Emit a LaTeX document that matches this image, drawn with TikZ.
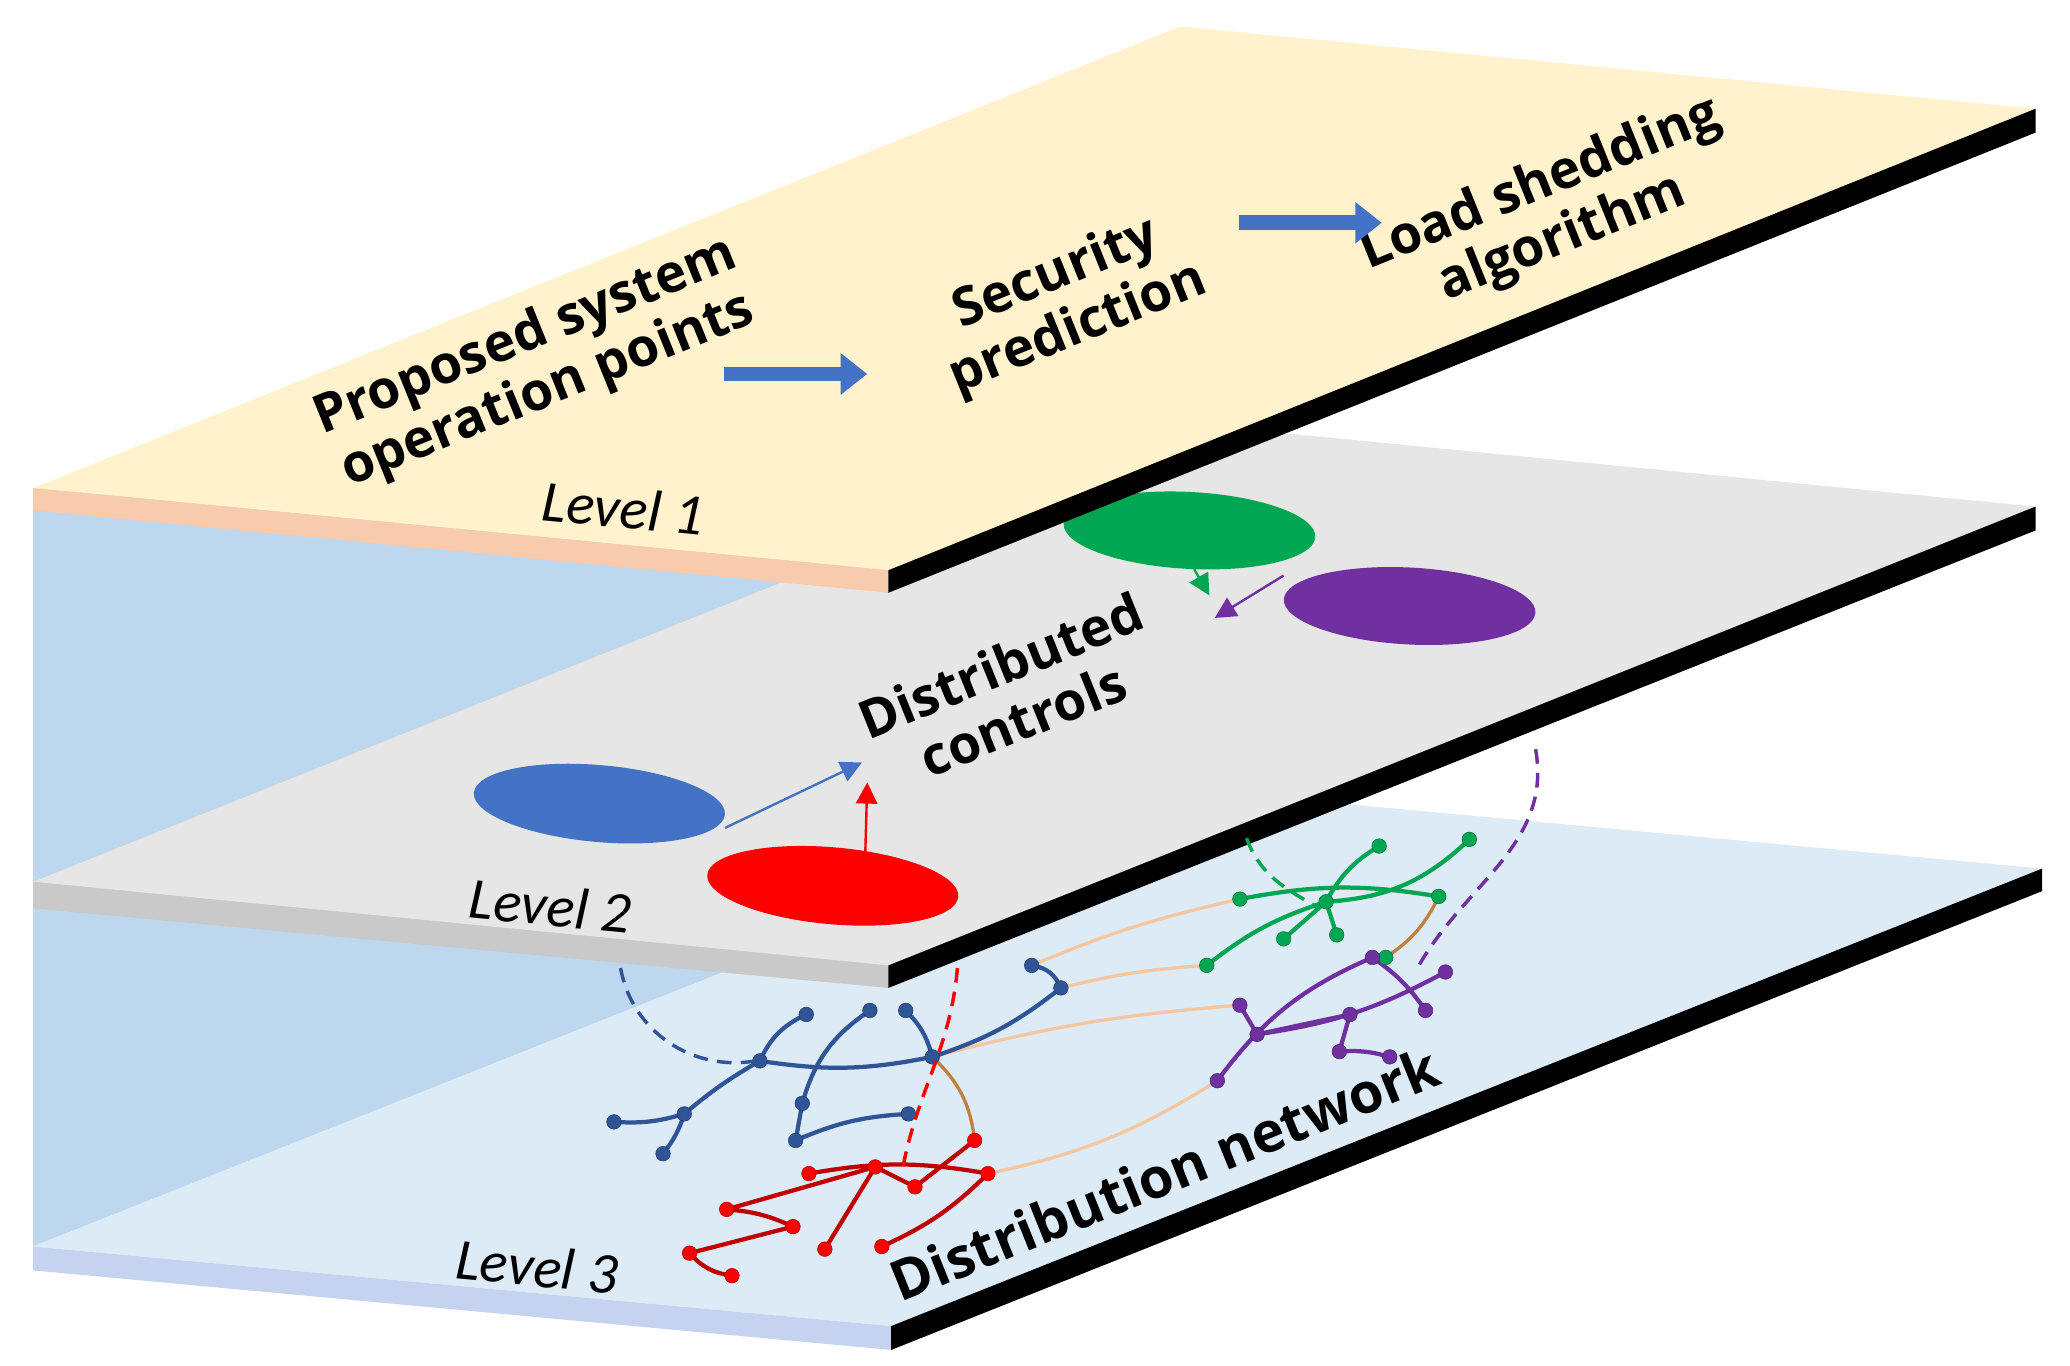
\documentclass[tikz,border=0pt]{standalone}
\usepackage{fontspec}
\setmainfont{Open Sans}
\newfontfamily\carl{Carlito}
\usetikzlibrary{arrows.meta,shapes.geometric}
\definecolor{bwall}{HTML}{BDD7EE}
\definecolor{lone}{HTML}{FFF2CC}
\definecolor{lonee}{HTML}{F8CBAD}
\definecolor{ltwo}{HTML}{E7E6E6}
\definecolor{ltwoe}{HTML}{C9C9C9}
\definecolor{lthr}{HTML}{DDEBF7}
\definecolor{lthre}{HTML}{C5D3F0}
\definecolor{nblue}{HTML}{2F5597}
\definecolor{nred}{HTML}{C00000}
\definecolor{ngreen}{HTML}{00A651}
\definecolor{npurp}{HTML}{7030A0}
\definecolor{tanl}{HTML}{F4C7A0}
\definecolor{eblue}{HTML}{4472C4}
\begin{document}
\begin{tikzpicture}[x=1pt,y=-1pt,
  big/.style={font=\fontsize{40}{44}\selectfont\bfseries, align=center, rotate=22},
  lvl/.style={font=\carl\itshape\fontsize{44}{48}\selectfont, rotate=-5.5},
  blk/.style={-{Triangle[length=20pt,width=30pt]}, line width=11pt, draw=eblue, shorten >=-2pt},
  dn/.style={circle, minimum size=11pt, inner sep=0pt, fill=#1, draw=#1!70!black},
  ln/.style={line width=3.2pt, draw=#1},
  ell/.style={ellipse, minimum width=190pt, minimum height=58pt},
  dsh/.style={dashed, line width=2.6pt, dash pattern=on 11pt off 7pt, draw=#1},
  sarr/.style={-{Triangle[length=16pt,width=16pt]}, line width=1.8pt, draw=#1}
]
\useasboundingbox (0,0) rectangle (1561,1030);
% wall
\fill[bwall] (25,385) -- (890,40) -- (893,595) -- (25,940) -- cycle;
% level 3
\fill[lthr] (25,940) -- (672,1000) -- (1540,655) -- (893,595) -- cycle;
\fill[lthre] (25,940) -- (672,1000) -- (672,1018) -- (25,958) -- cycle;
\fill[black] (672,1000) -- (1540,655) -- (1540,672) -- (672,1018) -- cycle;
% network
\foreach \n/\x/\y in {b1/463/846,b2/500/870,b3/516/840,b4/573/800,b5/608/765,b6/656/762,b7/683/762,b8/703/797,b9/605/832,b10/685/840,b11/600/860,b12/800/745,b13/778/728,
 r1/735/860,r2/745/885,r3/610/885,r4/660/880,r5/548/912,r6/598/925,r7/622/942,r8/665/940,r9/520/945,r10/552/962,r11/690/895,
 g1/935/678,g2/1000/680,g3/1040/638,g4/1108/633,g5/1085/676,g6/1045/722,g7/910/728,g8/968/708,g9/1008/705,
 p1/935/758,p2/948/780,p3/918/815,p4/1035/722,p5/1090/733,p6/1075/762,p7/1018/765,p8/1010/793,p9/1048/797}
  \coordinate (\n) at (\x,\y);
\draw[line width=2.5pt, tanl] (b8) to[bend left=5] (p1);
\draw[line width=2.5pt, tanl] (r2) to[bend right=10] (p3);
\draw[line width=2.5pt, tanl] (b13) to[bend left=5] (g1);
\draw[line width=2.5pt, tanl] (b12) to[bend left=5] (g7);
\draw[line width=2.5pt, brown] (b8) to[bend left=20] (r1);
\draw[line width=2.5pt, brown] (g6) to[bend right=15] (g5);
\draw[ln=nblue] (b1) to[bend right=10] (b3) (b3) to[bend left=10] (b2) (b3) to[bend left=5] (b4) (b4) to[bend left=-10] (b8) (b4) to[bend left=20] (b5) (b9) to[bend left=20] (b6) (b8) to[bend right=15] (b7) (b9) -- (b11) (b11) to[bend left=10] (b10) (b8) to[bend right=10] (b12) (b12) to[bend right=30] (b13);
\draw[ln=nred] (r3) to[bend left=10] (r2) (r4) -- (r5) (r4) -- (r7) (r5) to[bend left=10] (r6) (r6) -- (r9) (r9) to[bend right=20] (r10) (r2) to[bend left=10] (r8) (r1) -- (r11) (r4) -- (r11);
\draw[ln=ngreen] (g7) to[bend left=10] (g2) (g1) to[bend left=10] (g5) (g2) to[bend left=15] (g3) (g2) to[bend right=20] (g4) (g2) -- (g8) (g2) -- (g9);
\draw[ln=npurp] (p3) to[bend left=15] (p4) (p1) -- (p2) (p2) to[bend right=10] (p5) (p4) to[bend left=10] (p6) (p7) -- (p2) (p8) to[bend left=10] (p9) (p7) -- (p8);
\foreach \n in {1,...,13} \node[dn=nblue] (nb\n) at (b\n) {};
\foreach \n in {1,...,11} \node[dn=red] (nr\n) at (r\n) {};
\foreach \n in {1,...,9} \node[dn=ngreen] (ng\n) at (g\n) {};
\foreach \n in {1,...,9} \node[dn=npurp] (np\n) at (p\n) {};
\node[big, font=\fontsize{42}{46}\selectfont\bfseries] (dn) at (878,885) {Distribution network};
\node[lvl] (l3) at (405,955) {Level 3};
% dashed
\draw[dsh=nblue] (468,730) to[out=-80,in=190] (570,800);
\draw[dsh=red] (722,730) to[out=-95,in=80] (680,885);
% level 2
\fill[ltwo] (25,665) -- (670,728) -- (1535,382) -- (890,319) -- cycle;
\fill[ltwoe] (25,665) -- (670,728) -- (670,745) -- (25,685) -- cycle;
\fill[black] (670,728) -- (1535,382) -- (1535,400) -- (670,745) -- cycle;
\draw[dsh=ngreen] (940,632) to[out=-70,in=150] (995,685);
\draw[dsh=npurp] (1158,565) to[out=-80,in=60] (1070,728);
\node[ell, fill=ngreen, rotate=-3] (eg) at (897,400) {};
\node[ell, fill=npurp, rotate=-3] (ep) at (1063,457) {};
\node[ell, fill=eblue, rotate=-5] (eb) at (452,606) {};
\node[ell, fill=red, rotate=-5] (er) at (628,668) {};
\coordinate (tg) at (912,449);
\coordinate (tp) at (916,466);
\coordinate (ta) at (650,575);
\coordinate (tr) at (654,590);
\draw[sarr=ngreen] ([xshift=5pt]eg.south) -- (tg);
\draw[sarr=npurp] ([yshift=18pt]ep.west) -- (tp);
\draw[sarr=eblue] ([yshift=-10pt]eb.east) -- (ta);
\draw[sarr=red] ([xshift=22pt,yshift=-3pt]er.north) -- (tr);
\node[big] (dc) at (763,522) {Distributed\\controls};
\node[lvl] (l2) at (415,683) {Level 2};
% level 1
\fill[lone] (25,368) -- (670,430) -- (1535,82) -- (890,20) -- cycle;
\fill[lonee] (25,368) -- (670,430) -- (670,447) -- (25,385) -- cycle;
\fill[black] (670,430) -- (1535,82) -- (1535,100) -- (670,447) -- cycle;
\node[big] (t1) at (405,275) {Proposed system\\operation points};
\node[big] (t2) at (805,228) {Security\\prediction};
\node[big] (t3) at (1170,160) {Load shedding\\algorithm};
\coordinate (a1s) at (546,282); \coordinate (a1e) at (652,282);
\coordinate (a2s) at (934,168); \coordinate (a2e) at (1040,168);
\draw[blk] (a1s) -- (a1e);
\draw[blk] (a2s) -- (a2e);
\node[lvl] (l1) at (470,383) {Level 1};
\end{tikzpicture}
\end{document}
